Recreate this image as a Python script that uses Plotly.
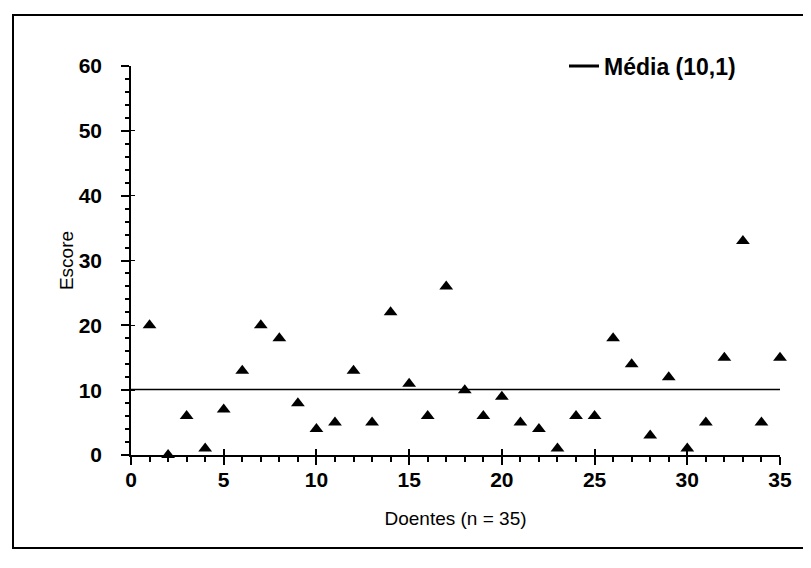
import plotly.graph_objects as go

patients = list(range(1, 36))
scores = [20, 0, 6, 1, 7, 13, 20, 18, 8, 4,
          5, 13, 5, 22, 11, 6, 26, 10, 6, 9,
          5, 4, 1, 6, 6, 18, 14, 3, 12, 1,
          5, 15, 33, 5, 15]
mean_value = 10.1
mean_label = "Média (10,1)"
x_title = "Doentes (n = 35)"
y_title = "Escore"

FONT = "Liberation Sans, Arial, sans-serif"

W, H = 811, 568
L, R, T, B = 123, 772, 58, 447
pw, ph = R - L, B - T


def px(x):
    return (x - L) / pw


def py(y):
    return (B - y) / ph


fig = go.Figure()
fig.add_trace(go.Scatter(
    x=[0, 35], y=[mean_value, mean_value], mode="lines",
    line=dict(color="black", width=1.5), name=mean_label, showlegend=False,
    legendgroup="m",
))
fig.add_trace(go.Scatter(
    x=[None], y=[None], mode="lines",
    line=dict(color="black", width=3), name=mean_label, showlegend=True,
    legendgroup="m",
))
fig.add_trace(go.Scatter(
    x=patients, y=scores, mode="markers",
    marker=dict(symbol="triangle-up", size=12, color="black"),
    showlegend=False, cliponaxis=False,
))

fig.update_layout(
    width=W, height=H,
    margin=dict(l=L, r=W - R, t=T, b=H - B),
    paper_bgcolor="white", plot_bgcolor="white",
    font=dict(family=FONT, color="black", size=17),
    xaxis=dict(range=[0, 35], tickvals=[0, 5, 10, 15, 20, 25, 30, 35],
               showgrid=False, zeroline=False, showline=True, linecolor="black",
               linewidth=1.5, ticks="outside", ticklen=8, tickwidth=1.5,
               tickcolor="black",
               minor=dict(dtick=1, ticks="outside", ticklen=5, tickcolor="black"),
               tickfont=dict(size=21, family=FONT, weight="bold", color="black"),
               ticklabelstandoff=-3,
               title=dict(text=x_title, font=dict(size=19, family=FONT, color="black"),
                          standoff=22)),
    yaxis=dict(range=[0, 60], dtick=10, showgrid=False, zeroline=False,
               showline=True, linecolor="black", linewidth=1.5,
               ticks="outside", ticklen=8, tickwidth=1.5, tickcolor="black",
               minor=dict(dtick=2, ticks="outside", ticklen=4, tickcolor="black"),
               tickfont=dict(size=21, family=FONT, weight="bold", color="black"),
               ticklabelstandoff=15,
               title=dict(text=y_title, font=dict(size=19, family=FONT, color="black"),
                          standoff=0)),
    xaxis2=dict(range=[0, 35], overlaying="x", tickvals=[0, 5, 10, 15, 20, 25, 30, 35],
                showticklabels=False, showgrid=False, zeroline=False,
                ticks="inside", ticklen=6, tickwidth=1.5, tickcolor="black"),
    yaxis2=dict(range=[0, 60], overlaying="y", dtick=10, showticklabels=False,
                showgrid=False, zeroline=False, ticks="inside", ticklen=4,
                tickcolor="black"),
    legend=dict(x=px(556), y=py(58), xanchor="left", yanchor="middle",
                bgcolor="rgba(0,0,0,0)", itemwidth=30,
                font=dict(size=23, family=FONT, weight="bold", color="black")),
    shapes=[dict(type="rect", xref="paper", yref="paper",
                 x0=px(5), x1=px(806), y0=py(540), y1=py(7),
                 line=dict(color="black", width=2), layer="below")],
)
fig.add_trace(go.Scatter(x=[0], y=[0], xaxis="x2", yaxis="y2", mode="markers",
                         marker=dict(opacity=0), showlegend=False, hoverinfo="skip"))

fig.write_html("out.html")
